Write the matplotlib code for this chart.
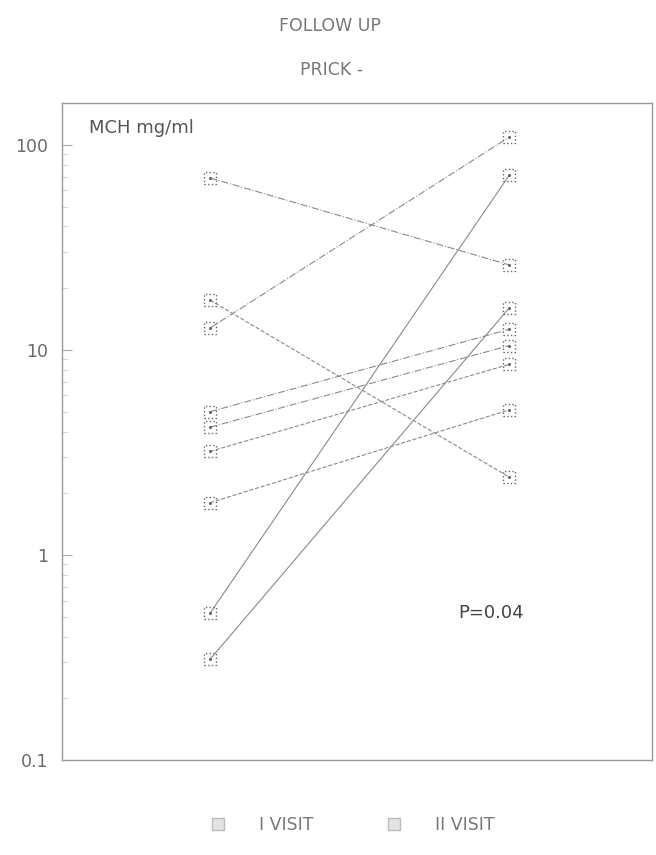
import matplotlib.pyplot as plt
from matplotlib.ticker import LogLocator, FixedFormatter, FixedLocator, NullFormatter

# MCH (mg/ml) at first and second visit, one pair per patient
visit1 = [69, 17.5, 12.8, 5.0, 4.2, 3.2, 1.8, 0.52, 0.31]
visit2 = [26, 2.4, 109, 12.6, 10.5, 8.5, 5.1, 71, 16]
styles = ['-.', '--', '-.', '-.', '-.', '--', '--', '-', '-']

tick_vals = [0.1, 1, 10, 100]
tick_text = ['0.1', '1', '10', '100']

line_c = '#8a8a8a'
text_c = '#6a6a6a'
plt.rcParams['font.family'] = 'DejaVu Sans'

fig = plt.figure(figsize=(6.56, 8.55), dpi=100)
ax = fig.add_axes([0.0945, 0.111, 0.8995, 0.7685])

for a, b, ls in zip(visit1, visit2, styles):
    ax.plot([1, 2], [a, b], ls=ls, color=line_c, lw=0.8)

# dotted square symbols with a dot in the middle
ax.scatter([1] * len(visit1), visit1, marker='s', s=75, facecolors='none',
           edgecolors='#666666', linewidths=1.0, linestyles=':', zorder=3)
ax.scatter([2] * len(visit2), visit2, marker='s', s=75, facecolors='none',
           edgecolors='#666666', linewidths=1.0, linestyles=':', zorder=3)
ax.scatter([1] * len(visit1), visit1, marker='.', s=6, color='#666666', zorder=3)
ax.scatter([2] * len(visit2), visit2, marker='.', s=6, color='#666666', zorder=3)

ax.set_yscale('log')
ax.set_ylim(0.1, 160)
ax.set_xlim(0.505, 2.478)
ax.set_xticks([])
ax.yaxis.set_major_locator(FixedLocator(tick_vals))
ax.yaxis.set_major_formatter(FixedFormatter(tick_text))
ax.yaxis.set_minor_locator(LogLocator(base=10, subs=range(2, 10)))
ax.yaxis.set_minor_formatter(NullFormatter())
ax.tick_params(axis='y', which='major', direction='in', length=7,
               color='#aaaaaa', labelsize=12.5, labelcolor=text_c, pad=10)
ax.tick_params(axis='y', which='minor', direction='in', length=4,
               color='#cccccc')
for s in ax.spines.values():
    s.set_color('#9a9a9a')
    s.set_linewidth(1.0)

ax.text(0.045, 0.975, 'MCH mg/ml', transform=ax.transAxes, fontsize=13,
        color='#555555', va='top', ha='left')
ax.text(1.94, 0.52, 'P=0.04', fontsize=13, color='#444444', ha='center',
        va='center')

fig.text(0.503, 0.97, 'FOLLOW UP', fontsize=12.5, color='#777777',
         ha='center', va='center')
fig.text(0.505, 0.918, 'PRICK -', fontsize=12.5, color='#777777',
         ha='center', va='center')

leg = fig.legend(handles=[
    plt.Line2D([], [], marker='s', ms=8, mfc='#e4e4e4', mec='#bbbbbb',
               ls='none', label='I VISIT'),
    plt.Line2D([], [], marker='s', ms=8, mfc='#e4e4e4', mec='#bbbbbb',
               ls='none', label='II VISIT')],
    loc='center', bbox_to_anchor=(0.53, 0.035), ncol=2, frameon=False,
    fontsize=12.5, labelcolor='#777777', columnspacing=3.6,
    handletextpad=1.4)

fig.savefig('out.png', dpi=100)
